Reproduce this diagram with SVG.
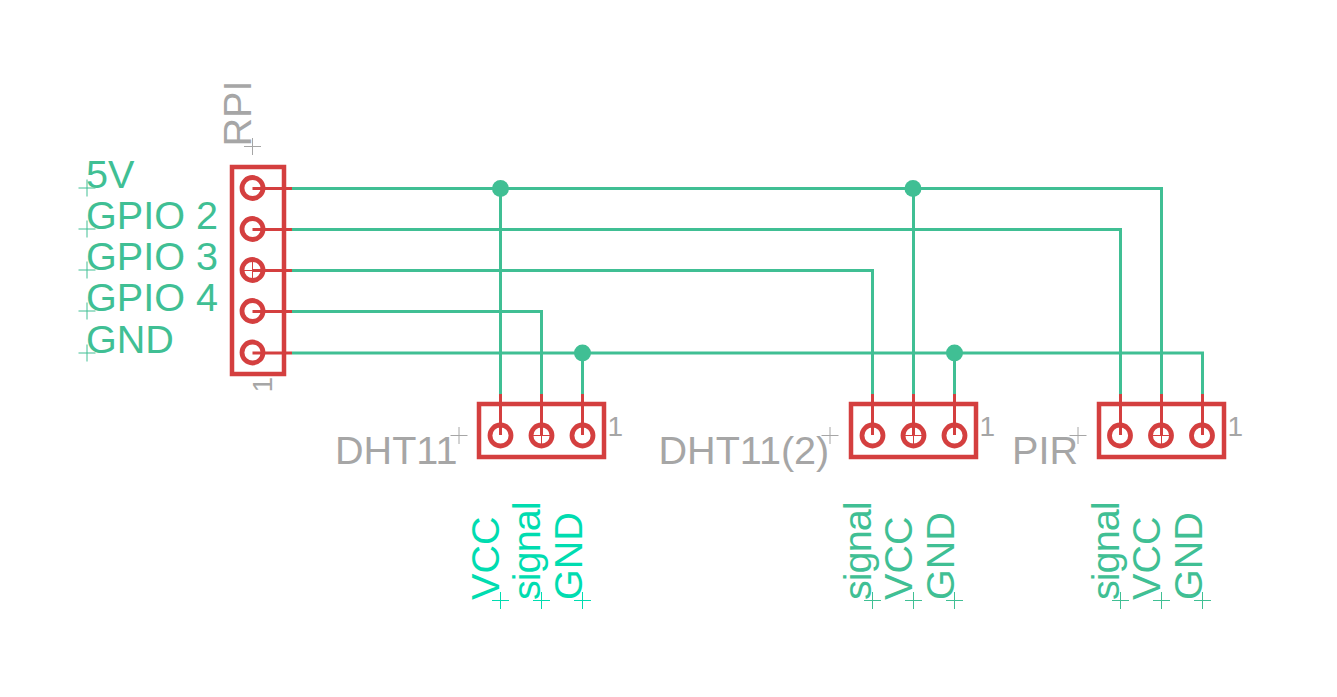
<svg xmlns="http://www.w3.org/2000/svg" width="1337" height="697" viewBox="0 0 1337 697">
<style>
text{font-family:"Liberation Sans",Arial,sans-serif}
.n{font-size:39.6px;fill:#a6a6a6}
.s{font-size:28px;fill:#a6a6a6}
.g{font-size:39.6px;fill:#40bf94}
.c{font-size:39.6px;fill:#00dcb0}
.w{fill:none;stroke:#40bf94;stroke-width:3}
.r{fill:none;stroke:#d43f3f;stroke-width:3}
.b{fill:none;stroke:#d43f3f;stroke-width:4.500}
.p{fill:none;stroke:#d43f3f;stroke-width:4.800}
.x{stroke:#a6a6a6;stroke-width:1;fill:none}
.xg{stroke:#40bf94;stroke-width:1;fill:none}
.xc{stroke:#00dcb0;stroke-width:1;fill:none}
.xr{stroke:#d43f3f;stroke-width:1;fill:none}
.j{fill:#40bf94}
</style>
<defs>
<path id="cr" d="M-8.500 0H8.500M0-8.500V8.500"/>
<circle id="pad" r="10.500"/>
</defs>
<g id="connectors">
<path class="w" d="M292 188.500H1161.500V394"/>
<path class="w" d="M292 229.500H1120.500V394"/>
<path class="w" d="M292 270.500H872.500V394"/>
<path class="w" d="M292 311.500H541.500V394"/>
<path class="w" d="M292 353H1202.500V394"/>
<path class="w" d="M500.500 188V394"/>
<path class="w" d="M913.500 188V394"/>
<path class="w" d="M582.500 353V394"/>
<path class="w" d="M954.500 353V394"/>
<circle class="j" cx="500.500" cy="188.500" r="8.500"/>
<circle class="j" cx="913" cy="188.500" r="8.500"/>
<circle class="j" cx="582.500" cy="353" r="8.500"/>
<circle class="j" cx="954.500" cy="353" r="8.500"/>
</g>
<g id="RPI">
<rect class="b" x="232" y="167" width="52" height="207"/>
<path class="r" d="M252.500 188.500H292M252.500 229.500H292M252.500 270.500H292M252.500 311.500H292M252.500 353H292"/>
<use href="#pad" class="p" x="252.500" y="188"/>
<use href="#pad" class="p" x="252.500" y="229"/>
<use href="#pad" class="p" x="252.500" y="270"/>
<use href="#pad" class="p" x="252.500" y="311"/>
<use href="#pad" class="p" x="252.500" y="352.500"/>
<use href="#cr" class="xr" x="252.500" y="270.500"/>
<use href="#cr" class="x" x="252.500" y="146.500"/>
<text class="n" transform="translate(251 146.500) rotate(-90)">RPI</text>
<text class="s" transform="translate(272 392.500) rotate(-90)">1</text>
<use href="#cr" class="xg" x="87" y="188"/>
<use href="#cr" class="xg" x="87" y="229"/>
<use href="#cr" class="xg" x="87" y="270"/>
<use href="#cr" class="xg" x="87" y="311"/>
<use href="#cr" class="xg" x="87" y="353"/>
<text class="g" x="86" y="187.500">5V</text>
<text class="g" x="86" y="229">GPIO 2</text>
<text class="g" x="86" y="270">GPIO 3</text>
<text class="g" x="86" y="311">GPIO 4</text>
<text class="g" x="86" y="353">GND</text>
</g>
<g id="DHT11">
<rect class="b" x="479" y="404" width="125" height="53"/>
<path class="r" d="M500.500 394V435M541.500 394V435M582.500 394V435"/>
<use href="#pad" class="p" x="500.500" y="435.500"/>
<use href="#pad" class="p" x="541.500" y="435.500"/>
<use href="#pad" class="p" x="582.500" y="435.500"/>
<use href="#cr" class="xr" x="541.500" y="435.500"/>
<use href="#cr" class="x" x="459" y="435.500"/>
<text class="n" x="335" y="464">DHT11</text>
<text class="s" x="607.500" y="435.500">1</text>
<use href="#cr" class="xc" x="500.500" y="600.500"/>
<use href="#cr" class="xc" x="541.500" y="600.500"/>
<use href="#cr" class="xc" x="582.500" y="600.500"/>
<text class="c" transform="translate(499 600) rotate(-90)">VCC</text>
<text class="c" textLength="98.500" transform="translate(540 600) rotate(-90)">signal</text>
<text class="c" transform="translate(582 600) rotate(-90)">GND</text>
</g>
<g id="DHT11-2">
<rect class="b" x="851" y="404" width="125" height="53"/>
<path class="r" d="M872.500 394V435M913.500 394V435M954.500 394V435"/>
<use href="#pad" class="p" x="872.500" y="435.500"/>
<use href="#pad" class="p" x="913.500" y="435.500"/>
<use href="#pad" class="p" x="954.500" y="435.500"/>
<use href="#cr" class="xr" x="913.500" y="435.500"/>
<use href="#cr" class="x" x="830" y="435.500"/>
<text class="n" x="658.500" y="464">DHT11(2)</text>
<text class="s" x="979.500" y="435.500">1</text>
<use href="#cr" class="xg" x="872.500" y="600.500"/>
<use href="#cr" class="xg" x="913.500" y="600.500"/>
<use href="#cr" class="xg" x="954.500" y="600.500"/>
<text class="g" textLength="98.500" transform="translate(871 600) rotate(-90)">signal</text>
<text class="g" transform="translate(912 600) rotate(-90)">VCC</text>
<text class="g" transform="translate(954 600) rotate(-90)">GND</text>
</g>
<g id="PIR">
<rect class="b" x="1099" y="404" width="125" height="53"/>
<path class="r" d="M1120.500 394V435M1161.500 394V435M1202.500 394V435"/>
<use href="#pad" class="p" x="1120" y="435.500"/>
<use href="#pad" class="p" x="1161" y="435.500"/>
<use href="#pad" class="p" x="1202" y="435.500"/>
<use href="#cr" class="xr" x="1161.500" y="435.500"/>
<use href="#cr" class="x" x="1078" y="435.500"/>
<text class="n" x="1012" y="464">PIR</text>
<text class="s" x="1227.500" y="435.500">1</text>
<use href="#cr" class="xg" x="1120.500" y="600.500"/>
<use href="#cr" class="xg" x="1161.500" y="600.500"/>
<use href="#cr" class="xg" x="1202.500" y="600.500"/>
<text class="g" textLength="98.500" transform="translate(1119 600) rotate(-90)">signal</text>
<text class="g" transform="translate(1160 600) rotate(-90)">VCC</text>
<text class="g" transform="translate(1202 600) rotate(-90)">GND</text>
</g>
</svg>
